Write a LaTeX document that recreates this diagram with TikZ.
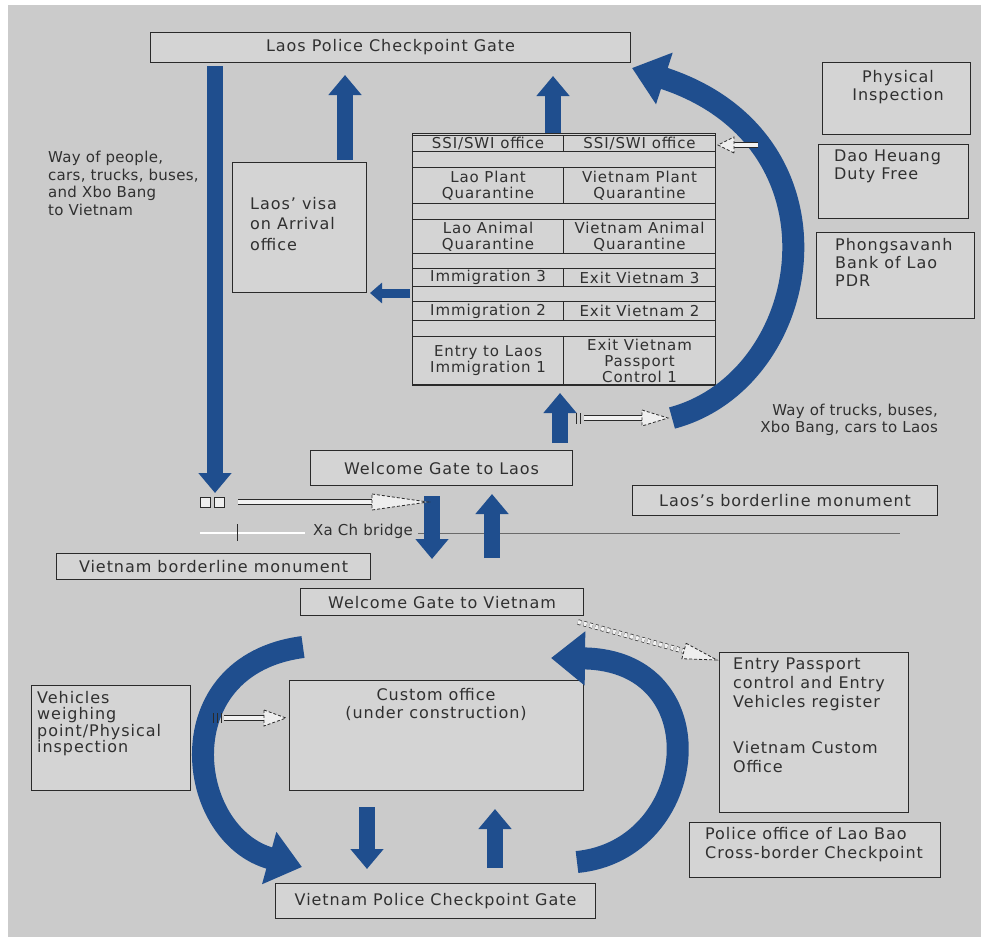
\documentclass[tikz,border=0pt]{standalone}
\usepackage{fontspec}
\setmainfont[LetterSpace=6]{DejaVu Sans}
\newfontfamily\narrowfont[LetterSpace=2]{DejaVu Sans}
\usetikzlibrary{arrows.meta,calc}
\definecolor{bg}{HTML}{CBCBCB}
\definecolor{boxc}{HTML}{D4D4D4}
\definecolor{linec}{HTML}{2A2A2A}
\definecolor{txtc}{HTML}{303030}
\definecolor{arrowc}{HTML}{1F4E8E}
\newcommand{\fs}{\fontsize{16}{18}\selectfont}
\newcommand{\fsc}{\fontsize{15}{16}\selectfont}
% hollow block arrow: shaft from #2 to #3, dashed head from #3 to #4
\newcommand{\harrow}[4][]{%
  \draw[hshaft,#1] (#2) -- (#3);
  \draw[hhead] ($(#3)!8pt!90:(#4)$) -- (#4) -- ($(#3)!8pt!-90:(#4)$) -- cycle;
}
\begin{document}
\begin{tikzpicture}[x=1pt,y=-1pt,
  box/.style={draw=linec, line width=1.1pt, fill=boxc, inner sep=0pt, text=txtc, font=\fs, align=center, anchor=north west},
  cell/.style={box, font=\fsc, minimum width=151pt},
  txt/.style={font=\fs, text=txtc, inner sep=0pt, align=left},
  barrow/.style={draw=arrowc, line width=16pt, -{Triangle[length=20pt,width=32pt]}},
  sarrow/.style={draw=arrowc, line width=9pt, -{Triangle[length=12pt,width=20pt]}},
  bigarc/.style={draw=arrowc, line width=22pt, -{Triangle[length=34pt,width=52pt]}},
  hshaft/.style={draw=linec, line width=0.7pt, double=white!70!boxc, double distance=4pt},
  hhead/.style={draw=linec, line width=0.8pt, dash pattern=on 3pt off 2pt, fill=white!60!boxc},
]
\fill[white] (0,0) rectangle (987,942);
\fill[bg] (8,5) rectangle (981,937);
\useasboundingbox (0,0) rectangle (987,942);

% ---------- Laos side ----------
\node[box, minimum width=480pt, minimum height=30pt] (laosgate) at (150,32) {Laos Police Checkpoint Gate};

\node[box, minimum width=148pt, minimum height=72pt] (phys) at (822,62) {};
\node[txt, align=center, anchor=north] (physt) at (898,70) {Physical\\Inspection};
\node[box, minimum width=150pt, minimum height=74pt] (dao) at (818,144) {};
\node[txt, anchor=north west] (daot) at (834,150) {Dao Heuang\\Duty Free};
\node[box, minimum width=158pt, minimum height=86pt] (bank) at (816,232) {};
\node[txt, anchor=north west] (bankt) at (835,238) {Phongsavanh\\Bank of Lao\\PDR};

% booth table
\node[box, minimum width=303pt, minimum height=252pt] (table) at (412,133) {};
\node[cell, minimum height=16pt] (r1l) at (412,135) {SSI/SWI office};
\node[cell, minimum height=16pt, minimum width=152pt] (r1r) at (563,135) {SSI/SWI office};
\node[cell, minimum height=36pt] (r2l) at (412,167) {Lao Plant\\Quarantine};
\node[cell, minimum height=36pt, minimum width=152pt] (r2r) at (563,167) {Vietnam Plant\\Quarantine};
\node[cell, minimum height=34pt] (r3l) at (412,219) {Lao Animal\\Quarantine};
\node[cell, minimum height=34pt, minimum width=152pt] (r3r) at (563,219) {Vietnam Animal\\Quarantine};
\node[cell, minimum height=18pt] (r4l) at (412,268) {Immigration 3};
\node[cell, minimum height=18pt, minimum width=152pt] (r4r) at (563,268) {Exit Vietnam 3};
\node[cell, minimum height=19pt] (r5l) at (412,301) {Immigration 2};
\node[cell, minimum height=19pt, minimum width=152pt] (r5r) at (563,301) {Exit Vietnam 2};
\node[cell, minimum height=48pt] (r6l) at (412,336) {Entry to Laos\\Immigration 1};
\node[cell, minimum height=48pt, minimum width=152pt] (r6r) at (563,336) {Exit Vietnam\\Passport\\Control 1};

\node[box, minimum width=134pt, minimum height=130pt] (visa) at (232,162) {};
\node[txt, anchor=north west, font=\fontsize{16}{20.5}\selectfont] (visat) at (250,197) {Laos' visa\\on Arrival\\office};

\node[txt, anchor=north west, font=\narrowfont\fontsize{15}{17.5}\selectfont] (waytovn) at (48,151) {Way of people,\\cars, trucks, buses,\\and Xbo Bang\\to Vietnam};
\node[txt, anchor=north east, align=right, font=\narrowfont\fontsize{15}{17}\selectfont] (waytolao) at (938,404) {Way of trucks, buses,\\Xbo Bang, cars to Laos};

\node[box, minimum width=262pt, minimum height=35pt] (welcomelao) at (310,450) {Welcome Gate to Laos};
\node[box, minimum width=305pt, minimum height=30pt] (laomon) at (632,485) {Laos's borderline monument};

% ---------- bridge ----------
\coordinate (brA) at (200,533);
\coordinate (brB) at (305,533);
\coordinate (brC) at (418,533);
\coordinate (brD) at (900,533);
\draw[white, line width=1.5pt] (brA) -- (brB);
\draw[linec, line width=0.8pt] (237,524) -- (237,541);
\draw[linec!70, line width=1pt] (brC) -- (brD);
\node[txt, font=\narrowfont\fontsize{15}{17}\selectfont] (bridge) at (363,531) {Xa Ch bridge};

% ---------- Vietnam side ----------
\node[box, minimum width=314pt, minimum height=26pt] (vnmon) at (56,553) {Vietnam borderline monument};
\node[box, minimum width=283pt, minimum height=27pt] (welcomevn) at (300,588) {Welcome Gate to Vietnam};

\node[box, minimum width=159pt, minimum height=105pt] (weigh) at (31,685) {};
\node[txt, anchor=north west, font=\fontsize{16}{16.5}\selectfont] (weight) at (37,691) {Vehicles\\weighing\\point/Physical\\inspection};
\node[box, minimum width=294pt, minimum height=110pt] (custom) at (289,680) {};
\node[txt, align=center, anchor=north] (customt) at (436,688) {Custom office\\(under construction)};
\node[box, minimum width=189pt, minimum height=160pt] (entry) at (719,652) {};
\node[txt, anchor=north west, font=\fontsize{16}{19}\selectfont] (entryt) at (733,658) {Entry Passport\\control and Entry\\Vehicles register\\[27pt]Vietnam Custom\\Office};
\node[box, minimum width=251pt, minimum height=55pt] (police) at (689,822) {};
\node[txt, anchor=north west, font=\fontsize{16}{19}\selectfont] (policet) at (705,827) {Police office of Lao Bao\\Cross-border Checkpoint};
\node[box, minimum width=320pt, minimum height=35pt] (vngate) at (275,883) {Vietnam Police Checkpoint Gate};

% ---------- straight blue arrows ----------
\coordinate (tallA) at (215,66);   \coordinate (tallB) at (215,493);
\coordinate (visaUpA) at (345,160); \coordinate (visaUpB) at (345,75);
\coordinate (tabUpA) at (553,133);  \coordinate (tabUpB) at (553,76);
\coordinate (visaInA) at (410,293); \coordinate (visaInB) at (370,293);
\coordinate (gateUpA) at (560,443); \coordinate (gateUpB) at (560,393);
\coordinate (brDnA) at (432,496);   \coordinate (brDnB) at (432,559);
\coordinate (brUpA) at (492,558);   \coordinate (brUpB) at (492,494);
\coordinate (vnDnA) at (367,807);   \coordinate (vnDnB) at (367,869);
\coordinate (vnUpA) at (495,868);   \coordinate (vnUpB) at (495,809);
\draw[barrow] (tallA) -- (tallB);
\draw[barrow] (visaUpA) -- (visaUpB);
\draw[barrow] (tabUpA) -- (tabUpB);
\draw[sarrow] (visaInA) -- (visaInB);
\draw[barrow] (gateUpA) -- (gateUpB);
\draw[barrow] (brDnA) -- (brDnB);
\draw[barrow] (brUpA) -- (brUpB);
\draw[barrow] (vnDnA) -- (vnDnB);
\draw[barrow] (vnUpA) -- (vnUpB);

% ---------- curved blue arrows ----------
\coordinate (arcLaoA) at (672,418);
\coordinate (arcLaoB) at (632,68);
\draw[bigarc] (arcLaoA) .. controls (815,380) and (855,140) .. (arcLaoB);
\coordinate (arcVnLA) at (303,647);
\coordinate (arcVnLB) at (302,867);
\draw[bigarc] (arcVnLA) .. controls (165,665) and (185,835) .. (arcVnLB);
\coordinate (arcVnRA) at (577,862);
\coordinate (arcVnRB) at (551,658);
\draw[bigarc] (arcVnRA) .. controls (700,850) and (720,660) .. (arcVnRB);

% ---------- hollow pointer arrows ----------
\draw[linec, line width=0.7pt, fill=white!60!boxc] (200,497) rectangle (210,507) (214,497) rectangle (224,507);
\coordinate (h1a) at (238,502); \coordinate (h1b) at (372,502); \coordinate (h1c) at (428,502);
\harrow{h1a}{h1b}{h1c}

\draw[linec, line width=0.8pt] (576,413) -- (576,424) (580,413) -- (580,424);
\coordinate (h2a) at (584,418); \coordinate (h2b) at (642,418); \coordinate (h2c) at (668,418);
\harrow{h2a}{h2b}{h2c}

\draw[linec, line width=0.8pt] (213,713) -- (213,723) (217,713) -- (217,723) (221,713) -- (221,723);
\coordinate (h3a) at (224,718); \coordinate (h3b) at (264,718); \coordinate (h3c) at (286,718);
\harrow{h3a}{h3b}{h3c}

\coordinate (h4a) at (578,622); \coordinate (h4b) at (684,651); \coordinate (h4c) at (717,660);
\harrow[dashed]{h4a}{h4b}{h4c}

\coordinate (h5a) at (758,145); \coordinate (h5b) at (734,145); \coordinate (h5c) at (718,145);
\harrow{h5a}{h5b}{h5c}
\end{tikzpicture}
\end{document}
